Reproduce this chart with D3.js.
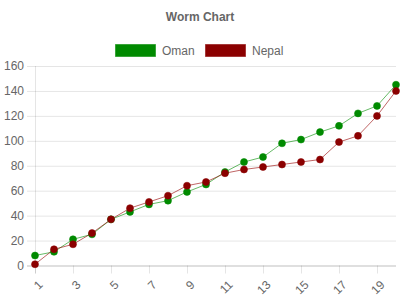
<!DOCTYPE html>
<html>
<head>
<meta charset="utf-8">
<script src="https://cdn.jsdelivr.net/npm/d3@7"></script>
<style>
  html, body { margin: 0; padding: 0; background: #fff; }
  svg { display: block; font-family: "Liberation Sans", Arial, Helvetica, sans-serif; }
</style>
</head>
<body>
<svg id="chart" width="400" height="300"></svg>
<script>
const title = "Worm Chart";
const categories = [1,2,3,4,5,6,7,8,9,10,11,12,13,14,15,16,17,18,19,20];
const seriesNames = ["Oman", "Nepal"];
const omanValues  = [8, 11, 21, 25, 37, 43, 49, 52, 59, 65, 75, 83, 87, 98, 101, 107, 112, 122, 128, 145];
const nepalValues = [1, 13, 17, 26, 37, 46, 51, 56, 64, 67, 74, 77, 79, 81, 83, 85, 99, 104, 120, 140];
const yTicks = [0, 20, 40, 60, 80, 100, 120, 140, 160];
const xTickLabels = [1, 3, 5, 7, 9, 11, 13, 15, 17, 19];

const colors = {
  Oman:  { fill: "#008a00", stroke: "rgba(0,138,0,0.55)", line: "rgba(0,140,0,0.6)" },
  Nepal: { fill: "#8b0000", stroke: "rgba(139,0,0,0.55)", line: "rgba(150,0,0,0.6)" }
};
const seriesData = { Oman: omanValues, Nepal: nepalValues };

const svg = d3.select("#chart");
const plotLeft = 35, plotRight = 396, plotTop = 66, plotBottom = 265.5;

const x = d3.scaleLinear().domain([1, 20]).range([plotLeft, plotRight]);
const y = d3.scaleLinear().domain([0, 160]).range([plotBottom, plotTop]);

// Title
svg.append("text")
  .attr("x", 200).attr("y", 21)
  .attr("text-anchor", "middle")
  .attr("font-size", 12).attr("font-weight", "bold")
  .attr("fill", "#666")
  .text(title);

// Legend
const legendX = [115, 205];
seriesNames.forEach((name, i) => {
  const g = svg.append("g");
  g.append("rect")
    .attr("x", legendX[i] + 0.5).attr("y", 44.5)
    .attr("width", 40).attr("height", 12)
    .attr("fill", colors[name].fill)
    .attr("stroke", colors[name].stroke)
    .attr("stroke-width", 1);
  g.append("text")
    .attr("x", legendX[i] + 47).attr("y", 55)
    .attr("font-size", 12).attr("fill", "#666")
    .text(name);
});

// Y gridlines + axis
const yAxis = d3.axisLeft(y).tickValues(yTicks).tickSize(-(plotRight - plotLeft)).tickPadding(10);
const yG = svg.append("g").attr("transform", `translate(${plotLeft},0)`).call(yAxis);
yG.select(".domain").remove();
yG.selectAll(".tick line")
  .attr("x1", -8)
  .attr("stroke", d => d === 0 ? "rgba(0,0,0,0.25)" : "rgba(0,0,0,0.1)");
yG.selectAll(".tick text")
  .attr("font-size", 12).attr("fill", "#666")
  .attr("font-family", "Liberation Sans, Arial, sans-serif")
  .attr("x", -11);

// vertical axis line
svg.append("line")
  .attr("x1", plotLeft + 0.5).attr("x2", plotLeft + 0.5)
  .attr("y1", plotTop).attr("y2", plotBottom + 8)
  .attr("stroke", "rgba(0,0,0,0.1)");

// X axis ticks
const xAxis = d3.axisBottom(x).tickValues(xTickLabels).tickSize(8).tickFormat(d3.format("d"));
const xG = svg.append("g").attr("transform", `translate(0,${plotBottom})`).call(xAxis);
xG.select(".domain").remove();
xG.selectAll(".tick line").attr("stroke", "rgba(0,0,0,0.1)");
xG.selectAll(".tick text")
  .attr("font-size", 12).attr("fill", "#666")
  .attr("font-family", "Liberation Sans, Arial, sans-serif")
  .attr("text-anchor", "end")
  .attr("dy", "0.35em")
  .attr("y", 0)
  .attr("transform", "translate(5,17) rotate(-45)");

// Lines and points
const lineGen = d3.line().x((d, i) => x(categories[i])).y(d => y(d));
seriesNames.forEach(name => {
  const vals = seriesData[name];
  svg.append("path")
    .datum(vals)
    .attr("d", lineGen)
    .attr("fill", "none")
    .attr("stroke", colors[name].line)
    .attr("stroke-width", 1);
});
seriesNames.forEach(name => {
  const vals = seriesData[name];
  svg.append("g").selectAll("circle")
    .data(vals)
    .join("circle")
    .attr("cx", (d, i) => x(categories[i]))
    .attr("cy", d => y(d))
    .attr("r", 3.5)
    .attr("fill", colors[name].fill)
    .attr("stroke", colors[name].stroke)
    .attr("stroke-width", 1);
});
</script>
</body>
</html>
